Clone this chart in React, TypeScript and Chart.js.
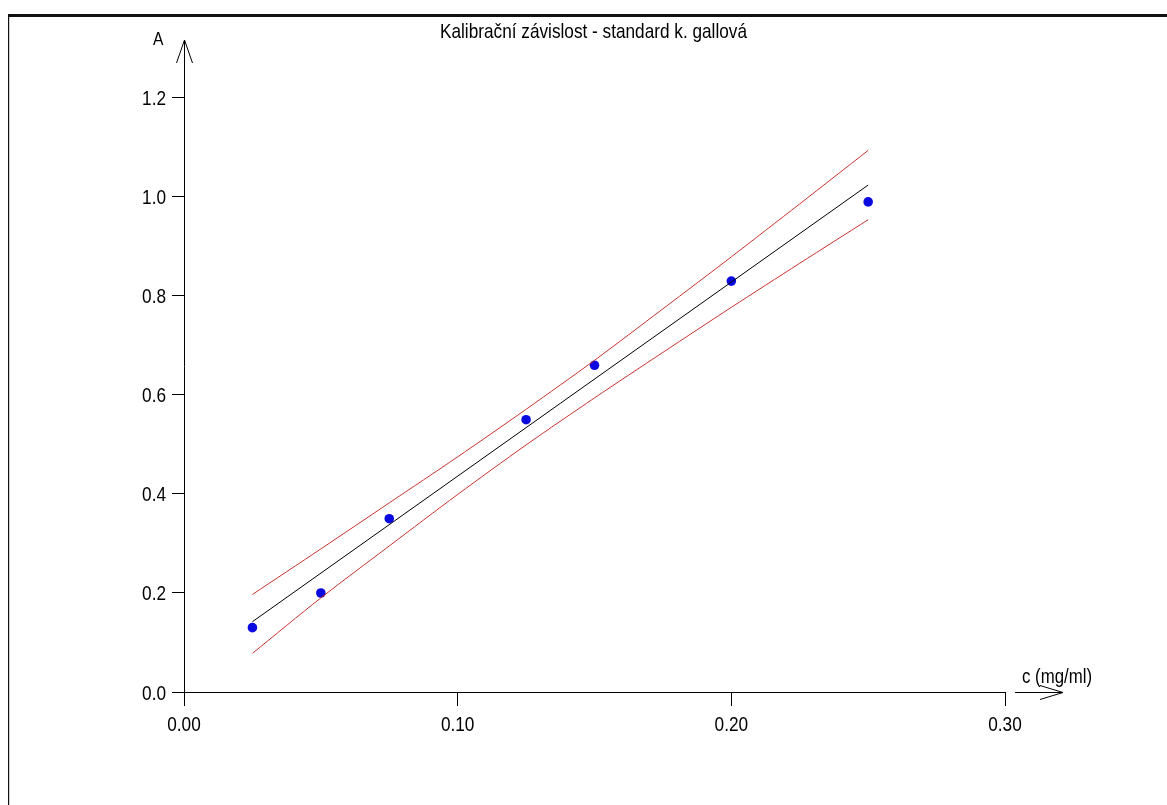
import React, { useEffect, useRef } from "react";
import { Chart, registerables } from "chart.js";

Chart.register(...registerables);

// Measured points
const concX = [0.025, 0.05, 0.075, 0.125, 0.15, 0.2, 0.25];
const absY = [0.13, 0.2, 0.35, 0.55, 0.66, 0.83, 0.99];

// Regression line (end points)
const fitX = [0.025, 0.25];
const fitY = [0.142, 1.024];

// Confidence band
const bandX = [0.025, 0.05, 0.075, 0.1, 0.125, 0.15, 0.175, 0.2, 0.225, 0.25];
const bandUpper = [0.197, 0.289, 0.382, 0.475, 0.571, 0.670, 0.774, 0.879, 0.986, 1.094];
const bandLower = [0.078, 0.19, 0.295, 0.399, 0.499, 0.594, 0.686, 0.777, 0.866, 0.954];

const xTickValues = [0, 0.1, 0.2, 0.3];
const xTickLabels = ["0.00", "0.10", "0.20", "0.30"];
const yTickValues = [0, 0.2, 0.4, 0.6, 0.8, 1.0, 1.2];
const yTickLabels = ["0.0", "0.2", "0.4", "0.6", "0.8", "1.0", "1.2"];

const TITLE = "Kalibrační závislost - standard k. gallová";
const X_LABEL = "c (mg/ml)";
const Y_LABEL = "A";

const FONT = '"Liberation Sans", Arial, sans-serif';
const NARROW = 0.82;

function narrowText(
  ctx: CanvasRenderingContext2D,
  text: string,
  x: number,
  y: number,
  size: number,
  align: "left" | "center" | "right",
  sx: number = NARROW
) {
  ctx.save();
  ctx.font = `${size}px ${FONT}`;
  ctx.textBaseline = "alphabetic";
  ctx.textAlign = align;
  ctx.translate(x, y);
  ctx.scale(sx, 1);
  ctx.fillText(text, 0, 0);
  ctx.restore();
}

function fitScale(ctx: CanvasRenderingContext2D, text: string, size: number, width: number) {
  ctx.save();
  ctx.font = `${size}px ${FONT}`;
  const w = ctx.measureText(text).width;
  ctx.restore();
  return w > 0 ? width / w : NARROW;
}

const decor = {
  id: "decor",
  afterDraw(chart: any) {
    const ctx = chart.ctx as CanvasRenderingContext2D;
    const area = chart.chartArea;
    const xs = chart.scales.x;
    const ys = chart.scales.y;
    const ax = Math.round(xs.getPixelForValue(0)) + 0.5;
    const ay = Math.round(ys.getPixelForValue(0)) + 0.5;
    ctx.save();
    // frame
    ctx.fillStyle = "#111";
    ctx.fillRect(8, 14, chart.width - 8, 3);
    ctx.fillRect(8, 14, 1.2, chart.height - 14);
    // y arrow head
    ctx.strokeStyle = "#000";
    ctx.lineWidth = 1;
    const top = area.top;
    ctx.beginPath();
    ctx.moveTo(ax - 8, top + 23);
    ctx.lineTo(ax, top);
    ctx.lineTo(ax + 8, top + 23);
    ctx.stroke();
    // x arrow
    const r = area.right;
    ctx.beginPath();
    ctx.moveTo(r + 10, ay);
    ctx.lineTo(r + 58, ay);
    ctx.moveTo(r + 35, ay - 7);
    ctx.lineTo(r + 58, ay);
    ctx.lineTo(r + 35, ay + 7);
    ctx.stroke();
    // texts
    ctx.fillStyle = "#000";
    narrowText(ctx, TITLE, 593.5, 38, 21, "center", fitScale(ctx, TITLE, 21, 307));
    narrowText(ctx, Y_LABEL, 153, 45, 19, "left");
    narrowText(ctx, X_LABEL, r + 17, ay - 10, 20, "left", fitScale(ctx, X_LABEL, 20, 70));
    // tick labels
    xTickValues.forEach((v, i) => {
      narrowText(ctx, xTickLabels[i], xs.getPixelForValue(v), 731, 21, "center");
    });
    yTickValues.forEach((v, i) => {
      narrowText(ctx, yTickLabels[i], 166, ys.getPixelForValue(v) + 7.5, 21, "right");
    });
    ctx.restore();
  },
};

export default function App() {
  const ref = useRef<HTMLCanvasElement>(null);
  useEffect(() => {
    if (!ref.current) return;
    const chart = new Chart(ref.current, {
      type: "scatter",
      data: {
        datasets: [
          {
            label: "upper",
            data: bandX.map((x, i) => ({ x, y: bandUpper[i] })),
            showLine: true,
            borderColor: "#c8322d",
            borderWidth: 1,
            pointRadius: 0,
            tension: 0.3,
          },
          {
            label: "lower",
            data: bandX.map((x, i) => ({ x, y: bandLower[i] })),
            showLine: true,
            borderColor: "#c8322d",
            borderWidth: 1,
            pointRadius: 0,
            tension: 0.3,
          },
          {
            label: "fit",
            data: fitX.map((x, i) => ({ x, y: fitY[i] })),
            showLine: true,
            borderColor: "#000",
            borderWidth: 1,
            pointRadius: 0,
          },
          {
            label: "data",
            data: concX.map((x, i) => ({ x, y: absY[i] })),
            showLine: false,
            backgroundColor: "#0a0ae0",
            borderColor: "#0a0ae0",
            borderWidth: 0,
            pointRadius: 4.8,
          },
        ],
      },
      options: {
        animation: false,
        responsive: false,
        events: [],
        layout: { padding: { left: 124, top: 40, right: 162, bottom: 73 } },
        plugins: { legend: { display: false }, tooltip: { enabled: false }, title: { display: false } },
        scales: {
          x: {
            type: "linear",
            min: 0,
            max: 0.3,
            afterFit: (s: any) => { s.height = 40; },
            afterBuildTicks: (s: any) => { s.ticks = xTickValues.map((v) => ({ value: v })); },
            ticks: { display: false },
            grid: { drawOnChartArea: false, drawTicks: true, tickLength: 14, color: "#000" },
            border: { display: true, color: "#000", width: 1 },
          },
          y: {
            type: "linear",
            min: 0,
            max: 1.317,
            afterFit: (s: any) => { s.width = 60; },
            afterBuildTicks: (s: any) => { s.ticks = yTickValues.map((v) => ({ value: v })); },
            ticks: { display: false },
            grid: { drawOnChartArea: false, drawTicks: true, tickLength: 12, color: "#000" },
            border: { display: true, color: "#000", width: 1 },
          },
        },
      },
      plugins: [decor],
    });
    return () => chart.destroy();
  }, []);
  return (
    <div style={{ position: "fixed", left: 0, top: 0, width: 1167, height: 805, background: "#fff" }}>
      <canvas ref={ref} width={1167} height={805} style={{ display: "block" }} />
    </div>
  );
}
